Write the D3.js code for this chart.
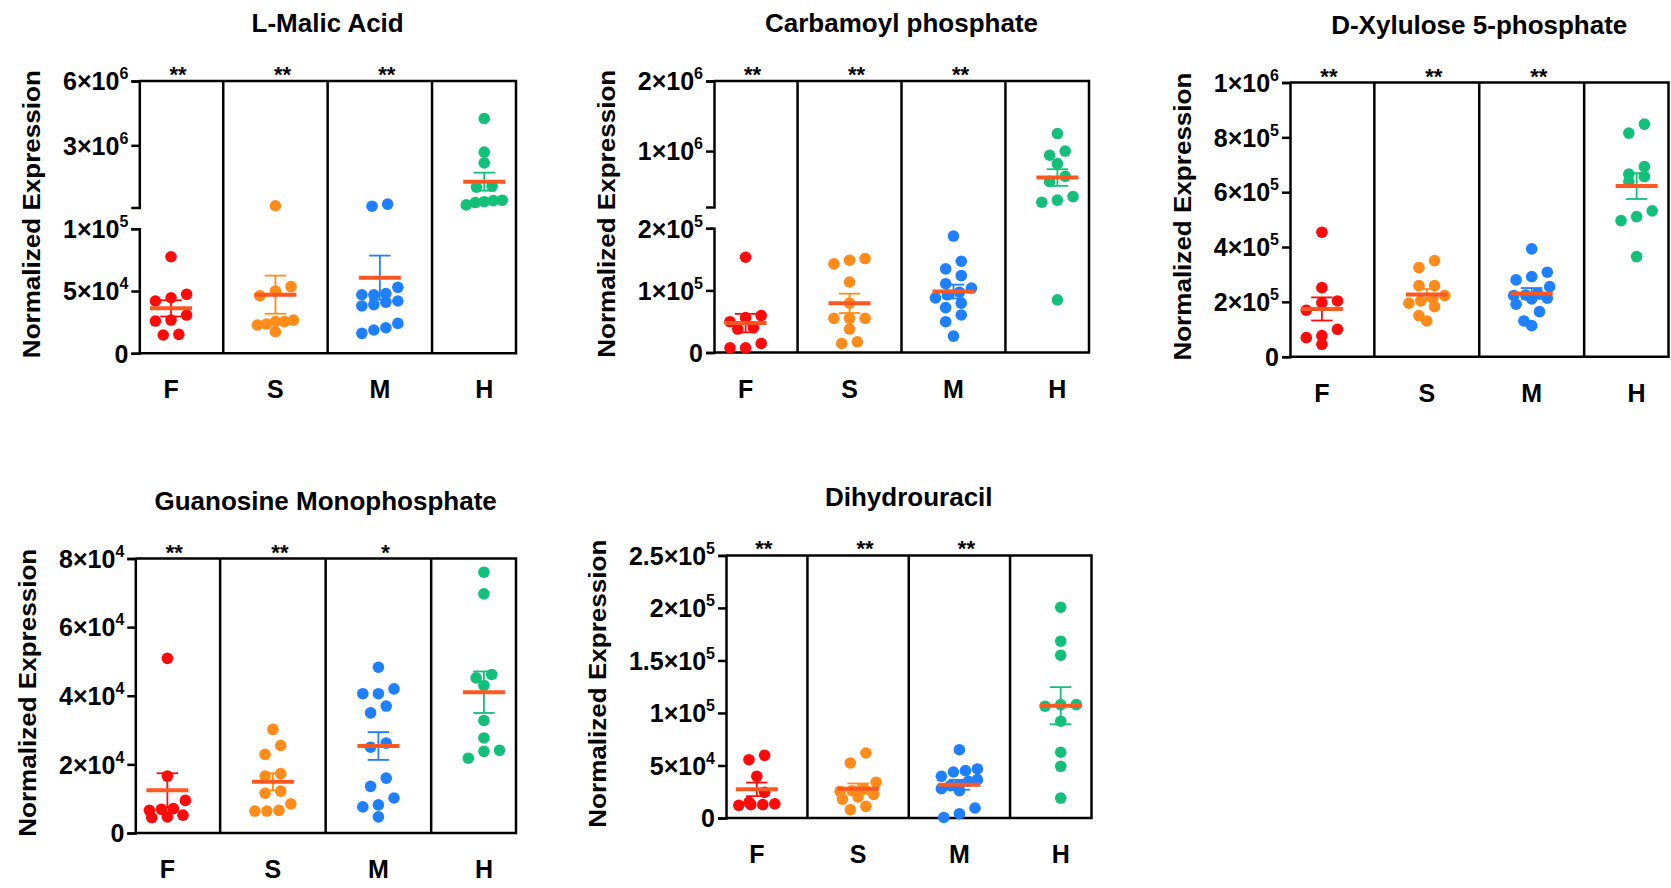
<!DOCTYPE html>
<html>
<head>
<meta charset="utf-8">
<script src="https://cdn.jsdelivr.net/npm/d3@7"></script>
<style>
  body { margin: 0; background: #fff; }
  svg { display: block; background: #fff; }
  text { font-family: "Liberation Sans", Arial, Helvetica, sans-serif; font-weight: bold; fill: #000; }
</style>
</head>
<body>
<svg id="fig" width="1671" height="888"></svg>
<script>
// ---- groups and colours ----
const groups = ["F", "S", "M", "H"];
const groupColors = ["#FF0A0A", "#FF8C1A", "#1E7FFF", "#14BF7A"];
const meanColor = "#FF5722";
const yTitle = "Normalized Expression";

// ---- L-Malic Acid (broken axis) ----
const malicF = [77500, 47350, 44600, 42000, 30700, 26700, 25900, 15200, 14700];
const malicS = [180000, 53500, 50000, 46200, 26700, 25400, 25400, 23500, 22700, 17300];
const malicM = [256000, 160000, 53000, 48000, 47000, 47000, 42000, 41000, 39000, 38000, 24000, 20500, 18700, 16000];
const malicH = [4250000, 2680000, 2180000, 1100000, 1050000, 440000, 420000, 370000, 330000, 220000];
const malicStars = ["**", "**", "**", ""];
const malicTicksLow = [0, 50000, 100000];
const malicTicksHigh = [3000000, 6000000];

// ---- Carbamoyl phosphate (broken axis) ----
const carbF = [153400, 59400, 56100, 49600, 40000, 37800, 14600, 7500, 7500];
const carbS = [151300, 148600, 142700, 113500, 79500, 55100, 55100, 55100, 37800, 17200, 14600];
const carbM = [187500, 147000, 134600, 123800, 110800, 103800, 97000, 92900, 88000, 79500, 72300, 60500, 49600, 26400];
const carbH = [1250000, 1000000, 940000, 820000, 640000, 567000, 350000, 300000, 270000, 84800];
const carbStars = ["**", "**", "**", ""];
const carbTicksLow = [0, 100000, 200000];
const carbTicksHigh = [1000000, 2000000];

// ---- D-Xylulose 5-phosphate ----
const xyluF = [454000, 251900, 203300, 197100, 169400, 100000, 76700, 69400, 45300];
const xyluS = [350400, 324900, 259200, 259200, 222700, 213200, 203300, 194900, 182500, 149700, 130300];
const xyluM = [393100, 308100, 292000, 280000, 255500, 231400, 225200, 222700, 213200, 210600, 191300, 164300, 130300, 113200];
const xyluH = [848300, 815400, 693500, 665700, 657000, 638800, 531800, 511000, 496400, 365000];
const xyluStars = ["**", "**", "**", ""];
const xyluTicks = [0, 200000, 400000, 600000, 800000, 1000000];

// ---- Guanosine Monophosphate ----
const gmpF = [50900, 16600, 9500, 7100, 6900, 6600, 5200, 4700, 4500];
const gmpS = [30200, 25500, 22900, 17300, 16600, 12200, 11600, 8500, 6600, 6400, 6400];
const gmpM = [48300, 42000, 40600, 40600, 37000, 35000, 26200, 25000, 16000, 13600, 10200, 8200, 7600, 4700];
const gmpH = [76000, 69700, 46200, 45200, 43000, 32800, 27700, 24100, 23800, 21800];
const gmpStars = ["**", "**", "*", ""];
const gmpTicks = [0, 20000, 40000, 60000, 80000];

// ---- Dihydrouracil ----
const dhuF = [59700, 55500, 39700, 24500, 15000, 13500, 12700, 12700, 12100];
const dhuS = [61900, 52400, 34000, 28000, 26000, 25400, 22500, 20000, 18000, 11100, 7900];
const dhuM = [65000, 46700, 45100, 43800, 39700, 36500, 35000, 31700, 30800, 27900, 26000, 9500, 4100, 500];
const dhuH = [200700, 168300, 155000, 107900, 107900, 106400, 92100, 62600, 49200, 19000];
const dhuStars = ["**", "**", "**", ""];
const dhuTicks = [0, 50000, 100000, 150000, 200000, 250000];

// ---- panel set-up: data + frame box of each plot ----
const panels = [
  { title: "L-Malic Acid", data: [malicF, malicS, malicM, malicH], stars: malicStars,
    ticksLow: malicTicksLow, ticksHigh: malicTicksHigh,
    frame: { left: 139.3, top: 81, right: 516, bottom: 353.3 } },
  { title: "Carbamoyl phosphate", data: [carbF, carbS, carbM, carbH], stars: carbStars,
    ticksLow: carbTicksLow, ticksHigh: carbTicksHigh,
    frame: { left: 714, top: 81, right: 1089, bottom: 352.5 } },
  { title: "D-Xylulose 5-phosphate", data: [xyluF, xyluS, xyluM, xyluH], stars: xyluStars,
    ticks: xyluTicks,
    frame: { left: 1290, top: 82.5, right: 1668.5, bottom: 356.7 } },
  { title: "Guanosine Monophosphate", data: [gmpF, gmpS, gmpM, gmpH], stars: gmpStars,
    ticks: gmpTicks,
    frame: { left: 135.3, top: 558.5, right: 516, bottom: 833 } },
  { title: "Dihydrouracil", data: [dhuF, dhuS, dhuM, dhuH], stars: dhuStars,
    ticks: dhuTicks,
    frame: { left: 726, top: 555.4, right: 1091.5, bottom: 818 } }
];

const LINE_W = 2.5;
const DOT_R = 5.8;

const svg = d3.select("#fig");

// "6×10" + superscript exponent
function sciParts(v) {
  if (v === 0) return ["0", null];
  const e = Math.floor(Math.log10(v) + 1e-9);
  const m = +(v / Math.pow(10, e)).toFixed(2);
  return [m + "\u00D710", String(e)];
}

// points whose heights are close share a row and are spread sideways
function spreadOffsets(ys, binH, spacing, maxHalf) {
  const order = d3.range(ys.length).sort((a, b) => ys[a] - ys[b]);
  const off = new Array(ys.length).fill(0);
  let bin = [], start = null;
  const flush = () => {
    const k = bin.length;
    if (!k) return;
    const s = k > 1 ? Math.min(spacing, 2 * maxHalf / (k - 1)) : 0;
    bin.slice().reverse().forEach((id, i) => { off[id] = (i - (k - 1) / 2) * s; });
    bin = [];
  };
  order.forEach(i => {
    if (start === null || ys[i] - start > binH) { flush(); start = ys[i]; }
    bin.push(i);
  });
  flush();
  return off;
}

function drawAxis(g, scale, ticks, left) {
  const ax = g.append("g")
    .attr("transform", `translate(${left},0)`)
    .call(d3.axisLeft(scale).tickValues(ticks).tickSize(8).tickSizeOuter(8).tickFormat(""));
  ax.select(".domain").attr("stroke", "#000").attr("stroke-width", LINE_W);
  ax.selectAll(".tick line").attr("stroke", "#000").attr("stroke-width", LINE_W);
  ax.selectAll(".tick text").remove();
  ax.selectAll(".tick").each(function (d) {
    const [base, exp] = sciParts(d);
    const t = d3.select(this).append("text")
      .attr("class", "ticklabel")
      .attr("x", -11).attr("dy", "0.35em")
      .attr("text-anchor", "end")
      .style("font-size", "25px");
    t.append("tspan").text(base);
    if (exp) t.append("tspan").attr("dy", -11).style("font-size", "16px").text(exp);
  });
  return ax;
}

panels.forEach(p => {
  const fr = p.frame;
  const H = fr.bottom - fr.top;
  const g = svg.append("g");

  // y mapping (single or broken into two segments)
  let y;
  const axisParts = [];
  if (p.ticksLow) {
    const breakAt = d3.max(p.ticksLow);
    const top = d3.max(p.ticksHigh);
    const lower = d3.scaleLinear().domain([0, breakAt]).range([fr.bottom, fr.bottom - 0.4575 * H]);
    const upper = d3.scaleLinear().domain([breakAt, top]).range([fr.top + 0.4645 * H, fr.top]);
    y = v => (v <= breakAt ? lower(v) : upper(v));
    axisParts.push([lower, p.ticksLow], [upper, p.ticksHigh]);
  } else {
    const lin = d3.scaleLinear().domain([0, d3.max(p.ticks)]).range([fr.bottom, fr.top]);
    y = lin;
    axisParts.push([lin, p.ticks]);
  }

  const x = d3.scalePoint().domain(groups).range([fr.left, fr.right]).padding(0.304);
  const step = x.step();

  // frame: top, right, bottom; dividers between groups
  g.append("path")
    .attr("d", `M${fr.left},${fr.top}H${fr.right}V${fr.bottom}H${fr.left}`)
    .attr("fill", "none").attr("stroke", "#000").attr("stroke-width", LINE_W)
    .attr("stroke-linejoin", "miter");
  g.selectAll("line.divider")
    .data(groups.slice(0, -1))
    .join("line")
    .attr("class", "divider")
    .attr("x1", d => x(d) + step / 2).attr("x2", d => x(d) + step / 2)
    .attr("y1", fr.top).attr("y2", fr.bottom)
    .attr("stroke", "#000").attr("stroke-width", LINE_W);

  // y axis segments
  const axes = axisParts.map(([s, t]) => drawAxis(g, s, t, fr.left));

  // y title placed left of the widest tick label
  let minLeft = Infinity;
  axes.forEach(ax => ax.selectAll("text.ticklabel").each(function () {
    minLeft = Math.min(minLeft, fr.left + this.getBBox().x);
  }));
  const cy = (fr.top + fr.bottom) / 2 - 3;
  g.append("text")
    .attr("transform", `translate(${minLeft - 23},${cy}) rotate(-90)`)
    .attr("text-anchor", "middle")
    .attr("textLength", 288).attr("lengthAdjust", "spacingAndGlyphs")
    .style("font-size", "23px")
    .text(yTitle);

  // title
  g.append("text")
    .attr("x", (fr.left + fr.right) / 2).attr("y", fr.top - 49)
    .attr("text-anchor", "middle").style("font-size", "26px")
    .text(p.title);

  // group labels
  g.selectAll("text.xlab")
    .data(groups)
    .join("text")
    .attr("class", "xlab")
    .attr("x", d => x(d)).attr("y", fr.bottom + 45)
    .attr("text-anchor", "middle").style("font-size", "25px")
    .text(d => d);

  // significance marks
  g.selectAll("text.star")
    .data(groups)
    .join("text")
    .attr("class", "star")
    .attr("x", d => x(d) + 7).attr("y", fr.top + 1)
    .attr("text-anchor", "middle").style("font-size", "22px")
    .text((d, i) => p.stars[i]);

  // dots, SEM bars and mean lines
  groups.forEach((grp, i) => {
    const vals = p.data[i];
    const cx = x(grp);
    const ys = vals.map(y);
    const offs = spreadOffsets(ys, 10, 15.6, 18);
    g.append("g").selectAll("circle")
      .data(vals)
      .join("circle")
      .attr("cx", (d, j) => cx + offs[j])
      .attr("cy", d => y(d))
      .attr("r", DOT_R)
      .attr("fill", groupColors[i]);

    const m = d3.mean(vals);
    const se = d3.deviation(vals) / Math.sqrt(vals.length);
    const eb = g.append("g").attr("stroke", groupColors[i]).attr("stroke-width", 1.8);
    eb.append("line").attr("x1", cx).attr("x2", cx).attr("y1", y(m - se)).attr("y2", y(m + se));
    eb.append("line").attr("x1", cx - 10.7).attr("x2", cx + 10.7).attr("y1", y(m + se)).attr("y2", y(m + se));
    eb.append("line").attr("x1", cx - 10.7).attr("x2", cx + 10.7).attr("y1", y(m - se)).attr("y2", y(m - se));

    g.append("line")
      .attr("x1", cx - 21).attr("x2", cx + 21)
      .attr("y1", y(m)).attr("y2", y(m))
      .attr("stroke", meanColor).attr("stroke-width", 4);
  });
});
</script>
</body>
</html>
